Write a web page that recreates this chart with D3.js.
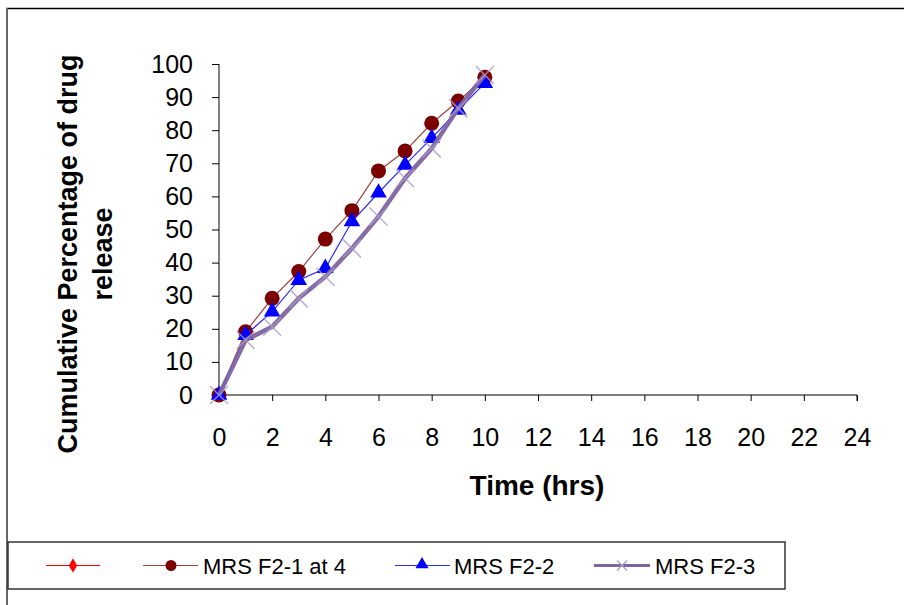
<!DOCTYPE html>
<html>
<head>
<meta charset="utf-8">
<script src="https://cdn.jsdelivr.net/npm/d3@7"></script>
<style>
  body { margin: 0; background: #fff; }
  svg { display: block; font-family: "Liberation Sans", Arial, sans-serif; }
</style>
</head>
<body>
<div id="chart"></div>
<script>
// time points (hrs)
var hours = [0, 1, 2, 3, 4, 5, 6, 7, 8, 9, 10];

// cumulative % drug release
var seriesEmpty = [];  // first legend entry has no label and no points
var mrsF21 = [0, 19.1, 29.2, 37.3, 47.1, 55.7, 67.7, 73.7, 82.1, 88.8, 96.0];
var mrsF22 = [0, 18.1, 25.2, 34.7, 38.3, 52.4, 61.1, 69.5, 77.6, 86.1, 94.2];
var mrsF23 = [0, 16.6, 20.6, 29.2, 35.7, 44.3, 53.9, 65.5, 74.5, 86.6, 96.7];

var xTicks = d3.range(0, 25, 2);
var yTicks = d3.range(0, 101, 10);
var legendNames = ["", "MRS F2-1 at 4", "MRS F2-2", "MRS F2-3"];

var W = 904, H = 605;
var svg = d3.select("#chart").append("svg")
    .attr("width", W)
    .attr("height", H);

// outer frame (top + left edge only visible)
svg.append("line").attr("x1", 6).attr("y1", 8.5).attr("x2", W).attr("y2", 8.5)
    .attr("stroke", "#000").attr("stroke-width", 1.5);
svg.append("line").attr("x1", 7).attr("y1", 8).attr("x2", 7).attr("y2", H)
    .attr("stroke", "#666").attr("stroke-width", 2);

var x = d3.scaleLinear().domain([0, 24]).range([219, 857]);
var y = d3.scaleLinear().domain([0, 100]).range([395, 64]);

// x axis
var xAxis = svg.append("g")
    .attr("transform", "translate(0," + y(0) + ")")
    .call(d3.axisBottom(x).tickValues(xTicks).tickSize(6).tickPadding(27));
xAxis.select(".domain").attr("stroke", "#000").attr("d", "M" + x(0) + ",0H" + x(24) + "V6");
xAxis.selectAll("text").attr("font-size", 25).attr("fill", "#000")
    .attr("font-family", "Liberation Sans, Arial, sans-serif");

// y axis
var yAxis = svg.append("g")
    .attr("transform", "translate(" + x(0) + ",0)")
    .call(d3.axisLeft(y).tickValues(yTicks).tickSize(7).tickPadding(19));
yAxis.select(".domain").attr("stroke", "#000").attr("d", "M0," + y(100) + "V" + y(0));
yAxis.selectAll("text").attr("font-size", 25).attr("fill", "#000")
    .attr("font-family", "Liberation Sans, Arial, sans-serif");

// axis titles
svg.append("text")
    .attr("x", 537).attr("y", 495)
    .attr("text-anchor", "middle")
    .attr("font-size", 28).attr("font-weight", "bold")
    .text("Time (hrs)");

var yTitle = svg.append("text")
    .attr("transform", "translate(77,254) rotate(-90)")
    .attr("text-anchor", "middle")
    .attr("font-size", 27).attr("font-weight", "bold");
yTitle.append("tspan").attr("x", 0).attr("y", 0).text("Cumulative Percentage of drug");
yTitle.append("tspan").attr("x", 0).attr("y", 35).text("release");

var line = d3.line()
    .x(function(d, i) { return x(hours[i]); })
    .y(function(d) { return y(d); });

function drawX(g, cx, cy, s, w) {
    g.append("path")
        .attr("d", "M" + (cx - s) + "," + (cy - s) + "L" + (cx + s) + "," + (cy + s) +
                   "M" + (cx - s) + "," + (cy + s) + "L" + (cx + s) + "," + (cy - s))
        .attr("stroke", "#a99bc6").attr("stroke-width", w).attr("fill", "none");
}

// series 1: dark red circles
svg.append("path").datum(mrsF21)
    .attr("d", line).attr("fill", "none")
    .attr("stroke", "#a0403c").attr("stroke-width", 1.2);
svg.selectAll(".dot1").data(mrsF21).enter().append("circle")
    .attr("cx", function(d, i) { return x(hours[i]); })
    .attr("cy", function(d) { return y(d); })
    .attr("r", 7.5).attr("fill", "#7b0000");

// series 2: blue triangles
svg.append("path").datum(mrsF22)
    .attr("d", line).attr("fill", "none")
    .attr("stroke", "#2a2aff").attr("stroke-width", 1.2);
var tri = d3.symbol().type(d3.symbolTriangle).size(120);
svg.selectAll(".tri").data(mrsF22).enter().append("path")
    .attr("d", tri)
    .attr("transform", function(d, i) { return "translate(" + x(hours[i]) + "," + y(d) + ")"; })
    .attr("fill", "#0000ff");

// series 3: thick purple with x markers, drawn last (on top)
svg.append("path").datum(mrsF23)
    .attr("d", line).attr("fill", "none")
    .attr("stroke", "#8064a2").attr("stroke-width", 4.5).attr("stroke-linejoin", "round")
    .attr("stroke-opacity", 0.95);
var gX = svg.append("g").attr("opacity", 0.8);
mrsF23.forEach(function(d, i) { drawX(gX, x(hours[i]), y(d), 9, 1.5); });

// legend
svg.append("rect").attr("x", 8).attr("y", 542).attr("width", 777).attr("height", 47)
    .attr("fill", "#fff").attr("stroke", "#333").attr("stroke-width", 1.5);
var ly = 565.5;
// [line start, line end, marker x, text x]
var legPos = [[46, 100, 73, 0], [143, 198, 171, 203], [395, 450, 422, 454], [594, 650, 622, 655]];
// entry 0: red diamond
svg.append("line").attr("x1", legPos[0][0]).attr("x2", legPos[0][1]).attr("y1", ly).attr("y2", ly)
    .attr("stroke", "#ff0000").attr("stroke-width", 1.2);
svg.append("path").attr("d", d3.symbol().type(d3.symbolDiamond).size(60))
    .attr("transform", "translate(" + legPos[0][2] + "," + ly + ")").attr("fill", "#ff0000");
// entry 1
svg.append("line").attr("x1", legPos[1][0]).attr("x2", legPos[1][1]).attr("y1", ly).attr("y2", ly)
    .attr("stroke", "#a0403c").attr("stroke-width", 1.2);
svg.append("circle").attr("cx", legPos[1][2]).attr("cy", ly).attr("r", 5.5).attr("fill", "#7b0000");
// entry 2
svg.append("line").attr("x1", legPos[2][0]).attr("x2", legPos[2][1]).attr("y1", ly).attr("y2", ly)
    .attr("stroke", "#2a2aff").attr("stroke-width", 1.2);
svg.append("path").attr("d", d3.symbol().type(d3.symbolTriangle).size(75))
    .attr("transform", "translate(" + legPos[2][2] + "," + (ly - 1) + ")").attr("fill", "#0000ff");
// entry 3
svg.append("line").attr("x1", legPos[3][0]).attr("x2", legPos[3][1]).attr("y1", ly).attr("y2", ly)
    .attr("stroke", "#8064a2").attr("stroke-width", 3);
drawX(svg, legPos[3][2], ly, 5, 1.2);

legendNames.forEach(function(n, i) {
    if (!n) return;
    svg.append("text").attr("x", legPos[i][3]).attr("y", 574)
        .attr("font-size", 22).attr("fill", "#000")
        .text(n);
});
</script>
</body>
</html>
